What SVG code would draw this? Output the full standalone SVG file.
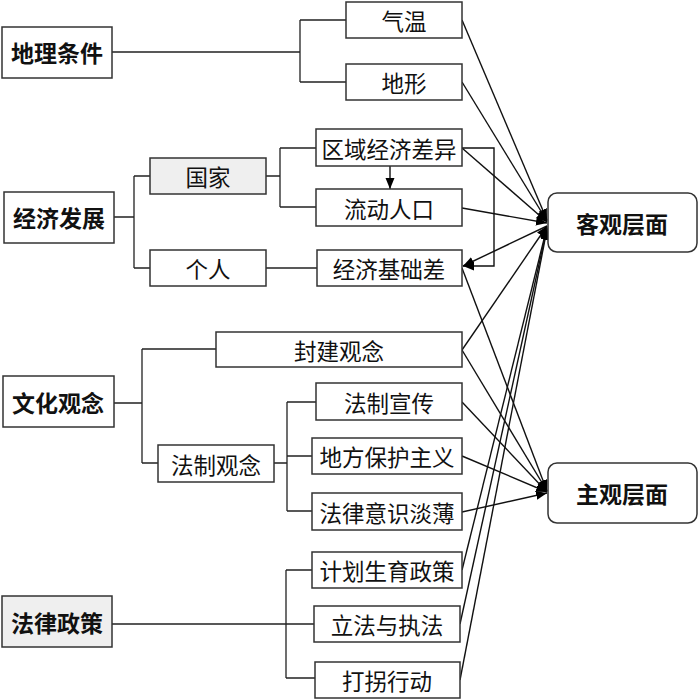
<svg xmlns="http://www.w3.org/2000/svg" width="700" height="700" viewBox="0 0 700 700">
<style>
.box{fill:#fff;stroke:#333;stroke-width:1.5}
.gray{fill:#efefef}
.rbox{fill:#fff;stroke:#333;stroke-width:1.5}
.t{font-family:"Noto Sans CJK SC","Noto Sans",sans-serif;font-size:22.5px;fill:#111;text-anchor:middle;dominant-baseline:central}
.b{font-weight:bold;font-size:23px}
.c{fill:none;stroke:#222;stroke-width:1.3}
.a{fill:none;stroke:#111;stroke-width:1.4;marker-end:url(#ah)}
</style>
<defs>
<marker id="ah" markerUnits="userSpaceOnUse" markerWidth="12" markerHeight="10" refX="11" refY="4.5" orient="auto">
<path d="M0,0 L11,4.5 L0,9 z" fill="#000"/>
</marker>
</defs>
<rect width="700" height="700" fill="#fff"/>

<g id="connectors">
<path class="c" d="M112,52 H300 M300,20 V82 M300,20 H346 M300,82 H346"/>
<path class="c" d="M114,217 H134 M134,176 V268 M134,176 H150 M134,268 H150"/>
<path class="c" d="M266,176 H280 M280,148 V207 M280,148 H316 M280,207 H316"/>
<path class="c" d="M266,268 H317"/>
<path class="c" d="M114,403 H142 M142,349 V463 M142,349 H216 M142,463 H158"/>
<path class="c" d="M274,463 H287 M287,402 V511 M287,402 H316 M287,456 H312 M287,511 H312"/>
<path class="c" d="M112,624 H314 M286,570 V678 M286,570 H312 M286,678 H315"/>
<path class="a" d="M390,166 V189"/>
<path class="a" d="M462,148 H494 V266 H463"/>
<path class="a" d="M547,226 L463,266"/>
<path class="a" d="M462,20 L547,220"/>
<path class="a" d="M462,82 L547,221"/>
<path class="a" d="M462,148 L547,222"/>
<path class="a" d="M462,208 L547,223"/>
<path class="a" d="M462,350 L547,226"/>
<path class="a" d="M462,570 L547,227"/>
<path class="a" d="M460,624 L547,228"/>
<path class="a" d="M460,680 L547,229"/>
<path class="a" d="M462,268 L547,491"/>
<path class="a" d="M462,350 L547,491"/>
<path class="a" d="M462,402 L547,492"/>
<path class="a" d="M462,456 L547,492"/>
<path class="a" d="M462,512 L547,493"/>
</g>

<g id="n-dili"><rect class="box" x="2" y="27" width="110" height="51"/><text class="t b" x="57" y="52">地理条件</text></g>
<g id="n-jingji"><rect class="box" x="4" y="192" width="110" height="51"/><text class="t b" x="59" y="217">经济发展</text></g>
<g id="n-wenhua"><rect class="box" x="3" y="376" width="111" height="51"/><text class="t b" x="58" y="402">文化观念</text></g>
<g id="n-falv"><rect class="box gray" x="2" y="596" width="110" height="51"/><text class="t b" x="57" y="622">法律政策</text></g>

<g id="n-qiwen"><rect class="box" x="346" y="2" width="116" height="36"/><text class="t" x="404" y="20">气温</text></g>
<g id="n-dixing"><rect class="box" x="346" y="64" width="116" height="36"/><text class="t" x="404" y="82">地形</text></g>
<g id="n-guojia"><rect class="box gray" x="150" y="158" width="116" height="36"/><text class="t" x="208" y="176">国家</text></g>
<g id="n-geren"><rect class="box" x="150" y="250" width="116" height="36"/><text class="t" x="208" y="268">个人</text></g>
<g id="n-quyu"><rect class="box" x="316" y="129" width="146" height="37"/><text class="t" x="389" y="148">区域经济差异</text></g>
<g id="n-liudong"><rect class="box" x="316" y="189" width="146" height="37"/><text class="t" x="389" y="208">流动人口</text></g>
<g id="n-jichu"><rect class="box" x="317" y="250" width="145" height="36"/><text class="t" x="389" y="268">经济基础差</text></g>
<g id="n-fengjian"><rect class="box" x="216" y="332" width="246" height="35"/><text class="t" x="339" y="350">封建观念</text></g>
<g id="n-fazhiguan"><rect class="box" x="158" y="445" width="116" height="37"/><text class="t" x="216" y="464">法制观念</text></g>
<g id="n-xuanchuan"><rect class="box" x="316" y="383" width="146" height="37"/><text class="t" x="389" y="402">法制宣传</text></g>
<g id="n-difang"><rect class="box" x="312" y="438" width="150" height="36"/><text class="t" x="387" y="456">地方保护主义</text></g>
<g id="n-yishi"><rect class="box" x="312" y="493" width="150" height="37"/><text class="t" x="387" y="512">法律意识淡薄</text></g>
<g id="n-jihua"><rect class="box" x="312" y="552" width="150" height="36"/><text class="t" x="387" y="570">计划生育政策</text></g>
<g id="n-lifa"><rect class="box" x="314" y="606" width="146" height="36"/><text class="t" x="387" y="624">立法与执法</text></g>
<g id="n-daguai"><rect class="box" x="315" y="662" width="145" height="36"/><text class="t" x="387" y="680">打拐行动</text></g>

<g id="n-keguan"><rect class="rbox" x="548" y="193" width="149" height="59" rx="9"/><text class="t b" x="622" y="223">客观层面</text></g>
<g id="n-zhuguan"><rect class="rbox" x="548" y="463" width="149" height="60" rx="9"/><text class="t b" x="622" y="493">主观层面</text></g>
</svg>
